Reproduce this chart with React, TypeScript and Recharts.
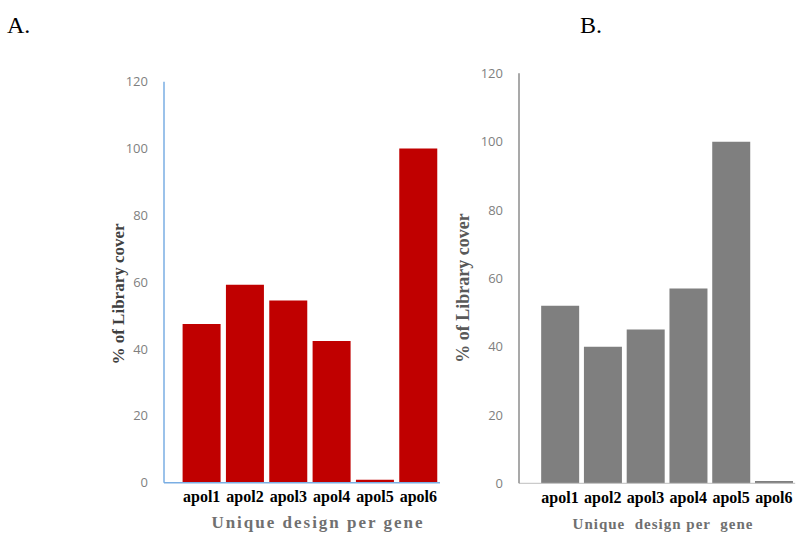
import React from "react";
import { BarChart, Bar, XAxis, YAxis } from "recharts";

const genes = ["apol1", "apol2", "apol3", "apol4", "apol5", "apol6"];
const coverA = [47.5, 59.2, 54.5, 42.4, 0.9, 100];
const coverB = [52, 40, 45, 57, 100, 0.7];
const yTicks = [0, 20, 40, 60, 80, 100, 120];

const dataA = genes.map((g, i) => ({ gene: g, value: coverA[i] }));
const dataB = genes.map((g, i) => ({ gene: g, value: coverB[i] }));

const tickNum = { fill: "#7f7f7f", fontSize: 13, fontFamily: "Open Sans" };
const tickCat = { fill: "#000", fontSize: 16, fontFamily: "Liberation Serif", fontWeight: "bold" };

export default function App() {
  return (
    <div style={{ position: "absolute", left: 0, top: 0, width: 807, height: 534, background: "#fff", overflow: "hidden" }}>
      <div style={{ position: "absolute", left: 0, top: 0 }}>
        <BarChart
          width={460}
          height={534}
          data={dataA}
          margin={{ top: 81.7, right: 20, bottom: 21.3, left: 0 }}
          barCategoryGap="6%"
        >
          <XAxis
            dataKey="gene"
            interval={0}
            tickLine={false}
            axisLine={{ stroke: "#7aaee3", strokeWidth: 1.5 }}
            tick={tickCat}
            height={30}
            padding={{ left: 16, right: 0 }}
          />
          <YAxis
            domain={[0, 120]}
            ticks={yTicks}
            interval={0}
            width={164}
            tickLine={false}
            tickSize={6}
            tickMargin={10}
            axisLine={{ stroke: "#7aaee3", strokeWidth: 1.5 }}
            tick={tickNum}
          />
          <Bar dataKey="value" fill="#c00000" isAnimationActive={false} />
        </BarChart>
      </div>
      <div style={{ position: "absolute", left: 440, top: 0 }}>
        <BarChart
          width={367}
          height={534}
          data={dataB}
          margin={{ top: 73.3, right: 11.8, bottom: 20.7, left: 0 }}
          barCategoryGap="6%"
        >
          <XAxis
            dataKey="gene"
            interval={0}
            tickLine={false}
            axisLine={{ stroke: "#bfbfbf", strokeWidth: 1 }}
            tick={tickCat}
            height={30}
            padding={{ left: 19.6, right: 0 }}
          />
          <YAxis
            domain={[0, 120]}
            ticks={yTicks}
            interval={0}
            width={79}
            tickLine={false}
            tickSize={6}
            tickMargin={10}
            axisLine={{ stroke: "#8c8c8c", strokeWidth: 1.5 }}
            tick={tickNum}
          />
          <Bar dataKey="value" fill="#7f7f7f" isAnimationActive={false} />
        </BarChart>
      </div>
      <svg width={807} height={534} style={{ position: "absolute", left: 0, top: 0, pointerEvents: "none" }}>
        <text x={7} y={33} fontFamily="Liberation Serif" fontSize={24} fill="#000">A.</text>
        <text x={580} y={33} fontFamily="Liberation Serif" fontSize={24} fill="#000">B.</text>
        <text
          transform="translate(124,294) rotate(-90)"
          textAnchor="middle"
          fontFamily="Liberation Serif"
          fontWeight="bold"
          fontSize={17}
          fill="#3f3f3f"
        >
          % of Library cover
        </text>
        <text
          transform="translate(469,288) rotate(-90)"
          textAnchor="middle"
          fontFamily="Liberation Serif"
          fontWeight="bold"
          fontSize={18}
          fill="#595959"
        >
          % of Library cover
        </text>
        <text
          x={318}
          y={528}
          textAnchor="middle"
          fontFamily="Liberation Serif"
          fontWeight="bold"
          fontSize={17}
          letterSpacing={2}
          fill="#707070"
        >
          Unique design per gene
        </text>
        <text
          x={663}
          y={529}
          textAnchor="middle"
          fontFamily="Liberation Serif"
          fontWeight="bold"
          fontSize={15}
          letterSpacing={1}
          fill="#707070"
          style={{ whiteSpace: "pre" }}
        >
          {"Unique  design per  gene"}
        </text>
      </svg>
    </div>
  );
}
